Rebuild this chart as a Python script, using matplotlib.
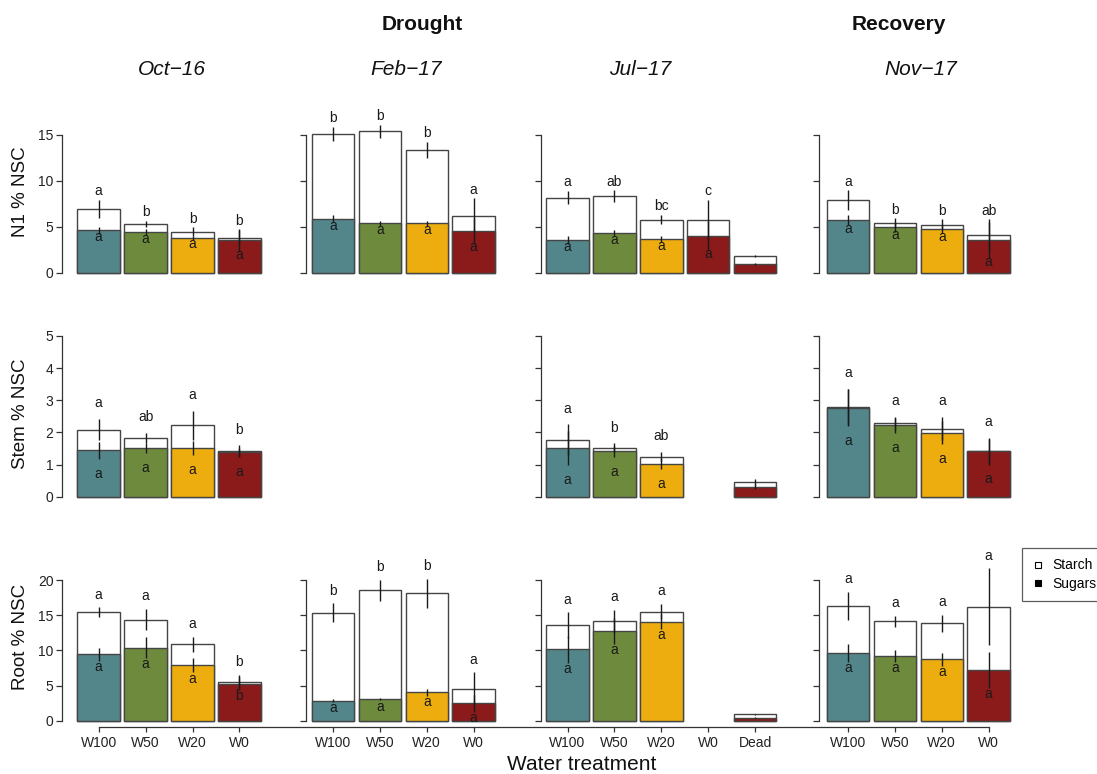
import numpy as np
import matplotlib
matplotlib.use("Agg")
import matplotlib.pyplot as plt
from matplotlib.lines import Line2D

plt.rcParams['font.family'] = ['Liberation Sans', 'DejaVu Sans']

W, H = 1097, 774
nan = np.nan

# ---------------- data ----------------
dates = ["Oct\u221216", "Feb\u221217", "Jul\u221217", "Nov\u221217"]
periods = ["Drought", "Recovery"]
organ_labels = ["N1 % NSC", "Stem % NSC", "Root % NSC"]
treat4 = ["W100", "W50", "W20", "W0"]
treat5 = ["W100", "W50", "W20", "W0", "Dead"]
colors = ["#53868B", "#6E8B3D", "#EEAD0E", "#8B1A1A", "#8B1A1A"]

# N1 leaves (per date: total NSC, sugars, SE total, SE sugars, letters)
n1_total = [[7.0, 5.36, 4.49, 3.84], [15.1, 15.4, 13.37, 6.2],
            [8.19, 8.33, 5.8, 5.76, 1.85], [7.93, 5.47, 5.22, 4.09]]
n1_sugar = [[4.65, 4.46, 3.8, 3.59], [5.87, 5.4, 5.4, 4.6],
            [3.59, 4.31, 3.66, 4.06, 0.94], [5.76, 5.0, 4.74, 3.59]]
n1_se_total = [[0.98, 0.33, 0.47, 0.83], [0.8, 0.7, 0.92, 1.9],
               [0.73, 0.64, 0.5, 2.2, 0.15], [1.05, 0.47, 0.6, 1.75]]
n1_se_sugar = [[0.36, 0.33, 0.22, 1.2], [0.38, 0.3, 0.3, 1.4],
               [0.4, 0.33, 0.33, 1.6, 0.1], [0.54, 0.5, 0.43, 2.0]]
n1_let_total = [["a", "b", "b", "b"], ["b", "b", "b", "a"],
                ["a", "ab", "bc", "c", ""], ["a", "b", "b", "ab"]]
n1_let_sugar = [["a", "a", "a", "a"], ["a", "a", "a", "a"],
                ["a", "a", "a", "a", ""], ["a", "a", "a", "a"]]

# Stem (no Feb-17 sampling)
stem_total = [[2.09, 1.83, 2.22, 1.42], None,
              [1.77, 1.52, 1.25, nan, 0.45], [2.79, 2.29, 2.12, 1.42]]
stem_sugar = [[1.44, 1.51, 1.52, 1.38], None,
              [1.51, 1.42, 1.03, nan, 0.31], [2.77, 2.22, 1.99, 1.41]]
stem_se_total = [[0.33, 0.16, 0.45, 0.18], None,
                 [0.48, 0.14, 0.15, nan, 0.09], [0.57, 0.2, 0.37, 0.42]]
stem_se_sugar = [[0.26, 0.16, 0.21, 0.13], None,
                 [0.53, 0.17, 0.17, nan, 0.08], [0.57, 0.23, 0.36, 0.4]]
stem_let_total = [["a", "ab", "a", "b"], None,
                  ["a", "b", "ab", "", ""], ["a", "a", "a", "a"]]
stem_let_sugar = [["a", "a", "a", "a"], None,
                  ["a", "a", "a", "", ""], ["a", "a", "a", "a"]]

# Root
root_total = [[15.45, 14.36, 10.86, 5.55], [15.36, 18.53, 18.1, 4.46],
              [13.56, 14.13, 15.5, nan, 0.9], [16.35, 14.13, 13.84, 16.2]]
root_sugar = [[9.43, 10.38, 7.87, 5.26], [2.85, 3.04, 4.03, 2.47],
              [10.15, 12.75, 14.07, nan, 0.45], [9.67, 9.24, 8.72, 7.2]]
root_se_total = [[0.67, 1.5, 1.05, 0.95], [1.3, 1.47, 2.05, 2.4],
                 [1.85, 1.6, 1.1, nan, 0.1], [2.0, 0.8, 1.18, 5.45]]
root_se_sugar = [[0.9, 1.5, 1.0, 0.9], [0.2, 0.15, 0.47, 1.2],
                 [1.9, 1.85, 1.05, nan, 0.05], [1.3, 0.83, 0.95, 2.5]]
root_let_total = [["a", "a", "a", "b"], ["b", "b", "b", "a"],
                  ["a", "a", "a", "", ""], ["a", "a", "a", "a"]]
root_let_sugar = [["a", "a", "a", "b"], ["a", "a", "a", "a"],
                  ["a", "a", "a", "", ""], ["a", "a", "a", "a"]]

totals = [n1_total, stem_total, root_total]
sugars = [n1_sugar, stem_sugar, root_sugar]
se_totals = [n1_se_total, stem_se_total, root_se_total]
se_sugars = [n1_se_sugar, stem_se_sugar, root_se_sugar]
let_totals = [n1_let_total, stem_let_total, root_let_total]
let_sugars = [n1_let_sugar, stem_let_sugar, root_let_sugar]
col_treats = [treat4, treat4, treat5, treat4]

# ---------------- layout (pixels) ----------------
col_axis_px = [62.3, 306, 541, 819]
col_first_px = [98.7, 333, 567.5, 848]
slot_px = 46.9
bar_w = 0.905
row_zero_px = [273, 496.7, 720.7]
row_ppu = [9.2, 32.14, 7.035]
row_tick_max = [15, 5, 20]
row_tick_step = [5, 1, 5]
row_ylim_top = [18, 5.3, 24]
off_up_pt = [6.3, 11.2, 9.1]
off_dn_pt = [2.6, 10.8, 4.5]

edge = "#454545"
ink = "#1a1a1a"

fig = plt.figure(figsize=(W / 100, H / 100), dpi=100)


def fx(p):
    return p / W


def fy(p):
    return 1 - p / H


bottom_axes = {}
for r in range(3):
    for c in range(4):
        tot = totals[r][c]
        if tot is None:
            continue
        sug = np.array(sugars[r][c], dtype=float)
        tot = np.array(tot, dtype=float)
        set_ = np.array(se_totals[r][c], dtype=float)
        ses = np.array(se_sugars[r][c], dtype=float)
        n = len(tot)
        xl = -(col_first_px[c] - col_axis_px[c]) / slot_px
        xr = (n - 1) + 0.6
        left = col_axis_px[c]
        width = (xr - xl) * slot_px
        height = row_ylim_top[r] * row_ppu[r]
        ax = fig.add_axes([fx(left), fy(row_zero_px[r]), width / W, height / H])
        ax.patch.set_visible(False)
        ax.set_xlim(xl, xr)
        ax.set_ylim(0, row_ylim_top[r])

        x = np.arange(n)
        ok = ~np.isnan(tot)
        ax.bar(x[ok], tot[ok], width=bar_w, color="white", edgecolor=edge,
               linewidth=1.0, zorder=2, clip_on=False)
        ax.bar(x[ok], sug[ok], width=bar_w, color=[colors[i] for i in x[ok]],
               edgecolor=edge, linewidth=1.0, zorder=3, clip_on=False)
        ax.vlines(x[ok], tot[ok] - set_[ok], tot[ok] + set_[ok], color=ink,
                  linewidth=1.0, zorder=4, clip_on=False)
        ax.vlines(x[ok], sug[ok] - ses[ok], sug[ok] + ses[ok], color=ink,
                  linewidth=1.0, zorder=4, clip_on=False)
        lt = let_totals[r][c]
        ls = let_sugars[r][c]
        for i in x[ok]:
            if lt[i]:
                ax.annotate(lt[i], (i, tot[i] + set_[i]), xytext=(0, off_up_pt[r]),
                            textcoords="offset points", ha="center", va="center",
                            fontsize=10, color=ink, zorder=5, annotation_clip=False)
            if ls[i]:
                ax.annotate(ls[i], (i, sug[i] - ses[i]), xytext=(0, -off_dn_pt[r]),
                            textcoords="offset points", ha="center", va="center",
                            fontsize=10, color=ink, zorder=5, annotation_clip=False)

        for s in ["top", "right", "bottom"]:
            ax.spines[s].set_visible(False)
        ax.spines["left"].set_bounds(0, row_tick_max[r])
        ax.spines["left"].set_color("#333333")
        ax.spines["left"].set_linewidth(0.9)
        yt = np.arange(0, row_tick_max[r] + 0.001, row_tick_step[r])
        ax.set_yticks(yt)
        if c == 0:
            ax.set_yticklabels([f"{v:g}" for v in yt])
        else:
            ax.set_yticklabels([])
        ax.tick_params(axis="y", direction="out", length=4.1, width=0.9,
                       color="#333333", labelsize=10, pad=2.2, labelcolor="#222222")
        ax.set_xticks([])
        if r == 2:
            bottom_axes[c] = ax

# x axis along the bottom (spanning all columns)
tick_px = []
tick_lab = []
for c in range(4):
    ax = bottom_axes[c]
    for i, t in enumerate(col_treats[c]):
        tick_px.append(ax.transData.transform((i, 0))[0])
        tick_lab.append(t)

axx = fig.add_axes([0, fy(727), 1, 0.0001])
axx.patch.set_visible(False)
axx.set_xlim(0, W)
for s in ["top", "right", "left"]:
    axx.spines[s].set_visible(False)
axx.spines["bottom"].set_bounds(min(tick_px), max(tick_px))
axx.spines["bottom"].set_color("#333333")
axx.spines["bottom"].set_linewidth(0.9)
axx.set_yticks([])
axx.set_xticks(tick_px)
axx.set_xticklabels(tick_lab)
axx.tick_params(axis="x", direction="out", length=3.6, width=0.9, color="#333333",
                labelsize=10, pad=3.0, labelcolor="#222222")

# titles and labels
fig.text(fx(422.5), fy(25), periods[0], ha="center", va="center",
         fontsize=15, fontweight="bold", color="#111111")
fig.text(fx(899), fy(25), periods[1], ha="center", va="center",
         fontsize=15, fontweight="bold", color="#111111")
for xp, d in zip([172, 406, 640, 921], dates):
    fig.text(fx(xp), fy(69.5), d, ha="center", va="center", fontsize=15,
             style="italic", color="#111111")
for yp, lab in zip([191.5, 414, 637], organ_labels):
    fig.text(fx(21), fy(yp), lab, ha="center", va="center", rotation=90,
             fontsize=13.5, color="#111111")
fig.text(fx(582), fy(764), "Water treatment", ha="center", va="center",
         fontsize=15, color="#111111")

# legend
h1 = Line2D([], [], marker="s", ls="none", mfc="white", mec="black", ms=4.5, mew=0.8)
h2 = Line2D([], [], marker="s", ls="none", mfc="black", mec="black", ms=4.5, mew=0.8)
leg = fig.legend([h1, h2], ["Starch", "Sugars"], loc="upper left",
                 bbox_to_anchor=(fx(1022), fy(548)), frameon=True, fancybox=False,
                 edgecolor="#333333", fontsize=10, borderpad=0.75, labelspacing=0.3,
                 handlelength=0.8, handletextpad=0.6, borderaxespad=0)
leg.get_frame().set_linewidth(0.9)

fig.savefig("out.png", dpi=100)
